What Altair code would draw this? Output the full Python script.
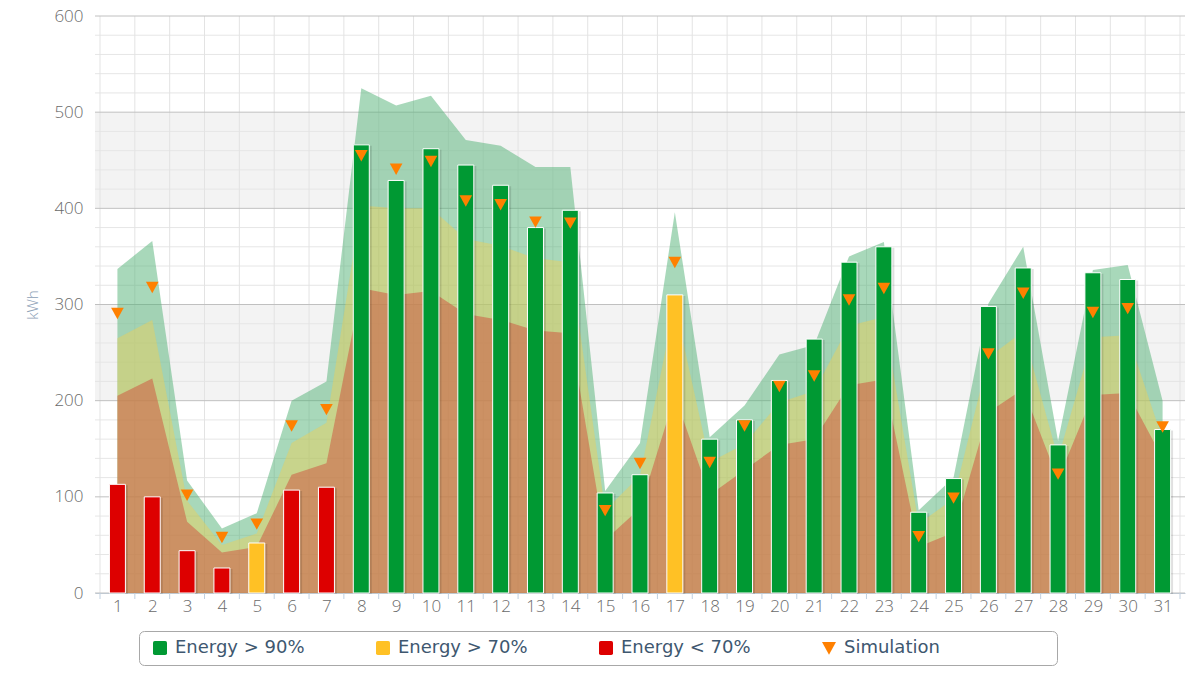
import altair as alt
import pandas as pd

# ---------------- data ----------------
days = list(range(1, 32))
energy = [113, 100, 44, 26, 52, 107, 110, 466, 429, 462, 445, 424, 380, 398, 104, 123,
          310, 160, 180, 221, 264, 344, 360, 84, 119, 298, 338, 154, 333, 326, 170]
simulation = [291, 318, 102, 58, 72, 174, 191, 455, 441, 449, 408, 404, 386, 385, 86, 135,
              344, 136, 174, 215, 226, 305, 317, 59, 99, 249, 312, 124, 292, 296, 173]
range_high = [337, 366, 117, 67, 83, 200, 220, 525, 507, 517, 471, 465, 443, 443, 106, 156,
              396, 162, 195, 248, 258, 350, 365, 86, 120, 301, 360, 158, 336, 341, 200]
range_mid = [265, 284, 96, 50, 62, 156, 177, 403, 400, 400, 368, 361, 348, 344, 86, 122,
             300, 136, 155, 198, 210, 278, 287, 72, 98, 245, 272, 140, 266, 268, 160]
range_low = [205, 223, 74, 42, 48, 123, 135, 317, 310, 314, 290, 284, 273, 270, 55, 88,
             205, 102, 128, 154, 160, 216, 222, 48, 63, 188, 212, 118, 206, 208, 140]
status = ["Energy < 70%", "Energy < 70%", "Energy < 70%", "Energy < 70%", "Energy > 70%",
          "Energy < 70%", "Energy < 70%", "Energy > 90%", "Energy > 90%", "Energy > 90%",
          "Energy > 90%", "Energy > 90%", "Energy > 90%", "Energy > 90%", "Energy > 90%",
          "Energy > 90%", "Energy > 70%", "Energy > 90%", "Energy > 90%", "Energy > 90%",
          "Energy > 90%", "Energy > 90%", "Energy > 90%", "Energy > 90%", "Energy > 90%",
          "Energy > 90%", "Energy > 90%", "Energy > 90%", "Energy > 90%", "Energy > 90%",
          "Energy > 90%"]

status_labels = ["Energy > 90%", "Energy > 70%", "Energy < 70%"]
status_colors = ["#009933", "#ffc125", "#dd0000"]
legend_labels = ["Energy > 90%", "Energy > 70%", "Energy < 70%", "Simulation"]
legend_colors = ["#009933", "#ffc125", "#dd0000", "#ff8000"]

y_major = [0, 100, 200, 300, 400, 500, 600]
y_minor = [20, 40, 60, 80, 120, 140, 160, 180, 220, 240, 260, 280, 320, 340, 360, 380,
           420, 440, 460, 480, 520, 540, 560, 580]
band_lo = [200, 400]
band_hi = [300, 500]

# ---------------- layout ----------------
W, H = 1090, 577
FONT = "Open Sans"
TRI = "M -1 -0.85 L 1 -0.85 L 0 0.95 Z"
SQR = ("M -0.75 -1 L 0.75 -1 Q 1 -1 1 -0.75 L 1 0.75 Q 1 1 0.75 1 L -0.75 1 "
       "Q -1 1 -1 0.75 L -1 -0.75 Q -1 -1 -0.75 -1 Z")

df = pd.DataFrame({"day": days, "energy": energy, "sim": simulation, "hi": range_high,
                   "mid": range_mid, "lo": range_low, "status": status})
bounds = pd.DataFrame({"b": [d - 0.5 for d in days] + [days[-1] + 0.5]})

xs = alt.Scale(domain=[0.5, 31.5], nice=False, zero=False)
ys = alt.Scale(domain=[0, 600], nice=False)

AX_X = alt.Axis(values=days, ticks=False, grid=False, domain=True,
                domainColor="#c0d0e0", labelFont=FONT, labelFontSize=17,
                labelFontWeight=300, labelColor="#6a6a6a", labelPadding=5,
                title=None, labelFlush=False)
AX_Y = alt.Axis(values=y_major, ticks=False, grid=False, domain=False,
                labelFont=FONT, labelFontSize=17, labelFontWeight=300,
                labelColor="#6a6a6a", labelPadding=12, title="kWh", titleFont=FONT,
                titleFontSize=15, titleFontWeight=300,
                titleColor="#8ba0b6", titlePadding=13)


def X(f):
    return alt.X(f, scale=xs, axis=AX_X)


def Y(f):
    return alt.Y(f, scale=ys, axis=AX_Y)


bands = alt.Chart(pd.DataFrame({"lo": band_lo, "hi": band_hi})).mark_rect(color="#f3f3f3").encode(
    x=alt.value(0), x2=alt.value(W), y=Y("lo:Q"), y2="hi:Q")

minor = alt.Chart(pd.DataFrame({"v": y_minor})).mark_rule(color="#e6e6e6", strokeWidth=1).encode(
    x=alt.value(0), x2=alt.value(W), y=Y("v:Q"))

vgrid = alt.Chart(bounds).mark_rule(color="#e3e3e3", strokeWidth=1).encode(
    x=X("b:Q"), y=alt.value(0), y2=alt.value(H))

major = alt.Chart(pd.DataFrame({"v": y_major})).mark_rule(color="#c0c0c0", strokeWidth=1).encode(
    x=alt.value(0), x2=alt.value(W), y=Y("v:Q"))

ticks = alt.Chart(bounds).mark_rule(color="#c0d0e0", strokeWidth=1).encode(
    x=X("b:Q"), y=alt.value(H), y2=alt.value(H + 6))

base = alt.Chart(df)

area_hi = base.mark_area(color="#51b175", opacity=0.5).encode(x=X("day:Q"), y=Y("hi:Q"))
area_mid = base.mark_area(color="#e8d05e", opacity=0.5).encode(x=X("day:Q"), y=Y("mid:Q"))
area_lo = base.mark_area(color="#d04e3c", opacity=0.5).encode(x=X("day:Q"), y=Y("lo:Q"))

shadow = base.mark_bar(size=18, xOffset=1.5, yOffset=1, color="black", opacity=0.12).encode(
    x=X("day:Q"), y=Y("energy:Q"))

bars = base.mark_bar(size=16, stroke="white", strokeWidth=1).encode(
    x=X("day:Q"), y=Y("energy:Q"),
    fill=alt.Fill("status:N", scale=alt.Scale(domain=status_labels, range=status_colors),
                  legend=None))

tri = base.mark_point(shape=TRI, filled=True, size=160, color="#ff8000", opacity=1).encode(
    x=X("day:Q"), y=Y("sim:Q"))

pad = "\u00a0" * 19 + "\u200b"
leg = alt.Legend(title=None, orient="none", legendX=44, legendY=615, direction="horizontal",
                 columns=4, symbolSize=196, symbolStrokeWidth=0, symbolOffset=4,
                 labelFont="DejaVu Sans", labelFontSize=18, labelColor="#3e576f",
                 labelOffset=6, labelLimit=400, columnPadding=65,
                 labelExpr="datum.label == 'Simulation' ? datum.label + '" + pad + "' : datum.label",
                 strokeColor="#a8a8a8", cornerRadius=5, padding=8, fillColor="white")

legend_layer = alt.Chart(pd.DataFrame({"label": legend_labels})).transform_filter(
    "false").mark_point(filled=True, opacity=1).encode(
    x=alt.value(0), y=alt.value(0),
    color=alt.Color("label:N", scale=alt.Scale(domain=legend_labels, range=legend_colors),
                    legend=leg),
    shape=alt.Shape("label:N", scale=alt.Scale(domain=legend_labels,
                                               range=[SQR, SQR, SQR, TRI]),
                    legend=leg))

chart = alt.layer(bands, minor, vgrid, major, ticks, area_hi, area_mid, area_lo,
                  shadow, bars, tri, legend_layer).properties(
    width=W, height=H,
    autosize=alt.AutoSizeParams(type="none"),
    padding={"left": 95, "top": 16, "right": 15, "bottom": 95},
    background="white",
).configure_view(stroke=None)

chart.save("out.html", embed_options={"renderer": "svg", "actions": False})
